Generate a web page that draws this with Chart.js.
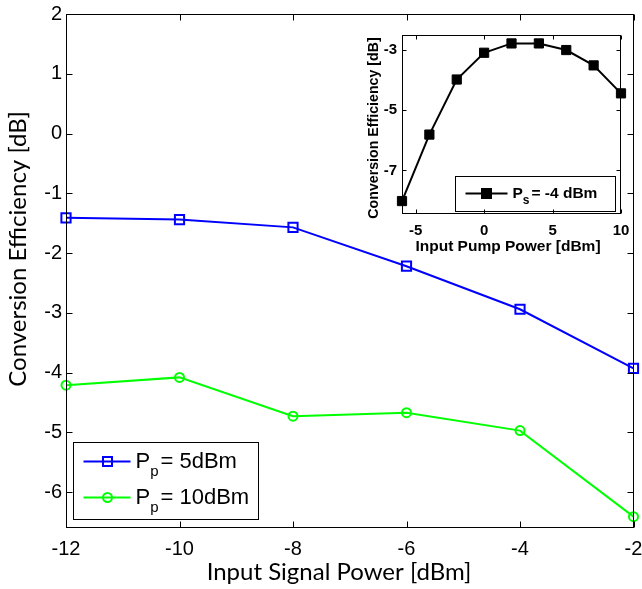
<!DOCTYPE html>
<html>
<head>
<title>Conversion Efficiency</title>
<script src="https://cdn.jsdelivr.net/npm/chart.js"></script>
<style>
  body { margin: 0; background: #fff; }
  #wrap { position: relative; width: 642px; height: 589px; }
  #main { position: absolute; left: 0; top: 0; }
  #inset { position: absolute; left: 340px; top: 0; }
</style>
</head>
<body>
<div id="wrap">
  <canvas id="main" width="642" height="589"></canvas>
  <canvas id="inset" width="302" height="265"></canvas>
</div>
<script>
// main plot data
const signalPower = [-12, -10, -8, -6, -4, -2];
const ce5dBm = [-1.41, -1.44, -1.57, -2.22, -2.94, -3.93];
const ce10dBm = [-4.21, -4.08, -4.73, -4.67, -4.97, -6.41];
const mainXTicks = [-12, -10, -8, -6, -4, -2];
const mainYTicks = [-6, -5, -4, -3, -2, -1, 0, 1, 2];

// inset data (Ps = -4 dBm)
const pumpPower = [-6, -4, -2, 0, 2, 4, 6, 8, 10];
const ceInset = [-8.02, -5.81, -3.98, -3.09, -2.78, -2.78, -3.0, -3.51, -4.44];
const insetXTicks = [-5, 0, 5, 10];
const insetYTicks = [-7, -5, -3];

const tickFont = 'Liberation Sans, Arial, sans-serif';
const titleFont = 'Lato, Carlito, sans-serif';

function toXY(xs, ys) {
  return xs.map((x, i) => ({ x: x, y: ys[i] }));
}

// box around the axes with inward ticks on all four sides (matlab style)
function framePlugin(id, len) {
  return {
    id: id,
    afterDraw(chart) {
      const { ctx, chartArea: a, scales } = chart;
      const l = Math.round(a.left) + 0.5, r = Math.round(a.right) - 0.5;
      const t = Math.round(a.top) + 0.5, b = Math.round(a.bottom) - 0.5;
      ctx.save();
      ctx.strokeStyle = '#000';
      ctx.lineWidth = 1;
      ctx.strokeRect(l, t, r - l, b - t);
      ctx.beginPath();
      scales.x.ticks.forEach(tk => {
        const px = Math.round(scales.x.getPixelForValue(tk.value)) + 0.5;
        ctx.moveTo(px, b); ctx.lineTo(px, b - len);
        ctx.moveTo(px, t); ctx.lineTo(px, t + len);
      });
      scales.y.ticks.forEach(tk => {
        const py = Math.round(scales.y.getPixelForValue(tk.value)) + 0.5;
        ctx.moveTo(l, py); ctx.lineTo(l + len, py);
        ctx.moveTo(r, py); ctx.lineTo(r - len, py);
      });
      ctx.stroke();
      ctx.restore();
    }
  };
}

// "P" + subscript + rest of label
function drawSubLabel(ctx, x, y, main, sub, rest, font, size, subSize) {
  ctx.font = font.replace('SIZE', size);
  ctx.textBaseline = 'middle';
  ctx.textAlign = 'left';
  ctx.fillStyle = '#000';
  ctx.fillText(main, x, y);
  x += ctx.measureText(main).width;
  ctx.font = font.replace('SIZE', subSize);
  ctx.fillText(sub, x, y + size * 0.45);
  x += ctx.measureText(sub).width;
  ctx.font = font.replace('SIZE', size);
  ctx.fillText(rest, x + 2, y);
}

function drawMarker(ctx, style, x, y, s, color, filled) {
  ctx.beginPath();
  if (style === 'rect') ctx.rect(x - s, y - s, 2 * s, 2 * s);
  else ctx.arc(x, y, s, 0, Math.PI * 2);
  if (filled) { ctx.fillStyle = color; ctx.fill(); }
  ctx.strokeStyle = color;
  ctx.stroke();
}

const mainDecor = {
  id: 'mainDecor',
  afterDraw(chart) {
    const { ctx, chartArea: a } = chart;
    ctx.save();
    // axis titles
    ctx.fillStyle = '#000';
    ctx.font = '24px ' + titleFont;
    ctx.textAlign = 'center';
    ctx.textBaseline = 'middle';
    ctx.fillText('Input Signal Power [dBm]', 339, 572);
    ctx.translate(18, 249);
    ctx.rotate(-Math.PI / 2);
    ctx.fillText('Conversion Efficiency [dB]', 0, 0);
    ctx.restore();

    // legend box
    ctx.save();
    const bx = a.left + 7.5, by = a.bottom - 85.5, bw = 185, bh = 77;
    ctx.fillStyle = '#fff';
    ctx.fillRect(bx, by, bw, bh);
    ctx.strokeStyle = '#000';
    ctx.lineWidth = 1;
    ctx.strokeRect(bx, by, bw, bh);
    const rows = chart.data.datasets.map((ds, i) => ({ ds: ds, y: by + 19 + i * 36 }));
    rows.forEach(row => {
      ctx.lineWidth = 2;
      ctx.strokeStyle = row.ds.borderColor;
      ctx.beginPath();
      ctx.moveTo(bx + 10, row.y);
      ctx.lineTo(bx + 57, row.y);
      ctx.stroke();
      drawMarker(ctx, row.ds.pointStyle, bx + 34, row.y, 4.5, row.ds.borderColor, false);
      const parts = row.ds.label.split('|');
      drawSubLabel(ctx, bx + 62, row.y, parts[0], parts[1], parts[2], 'SIZEpx ' + tickFont, 22, 15);
    });
    ctx.restore();
  }
};

const insetDecor = {
  id: 'insetDecor',
  beforeDraw(chart) {
    const { ctx, chartArea: a } = chart;
    ctx.save();
    ctx.fillStyle = '#fff';
    ctx.fillRect(a.left, a.top, a.right - a.left, a.bottom - a.top);
    ctx.restore();
  },
  afterDraw(chart) {
    const { ctx } = chart;
    ctx.save();
    ctx.fillStyle = '#000';
    ctx.font = 'bold 15.5px ' + tickFont;
    ctx.textAlign = 'center';
    ctx.textBaseline = 'middle';
    ctx.fillText('Input Pump Power [dBm]', 168, 247);
    ctx.font = 'bold 14.2px ' + tickFont;
    ctx.translate(34, 128);
    ctx.rotate(-Math.PI / 2);
    ctx.fillText('Conversion Efficiency [dB]', 0, 0);
    ctx.restore();

    // legend
    ctx.save();
    const bx = 115.5, by = 176.5, bw = 160, bh = 35;
    ctx.fillStyle = '#fff';
    ctx.fillRect(bx, by, bw, bh);
    ctx.strokeStyle = '#000';
    ctx.lineWidth = 1;
    ctx.strokeRect(bx, by, bw, bh);
    const ds = chart.data.datasets[0];
    const cy = by + 17;
    ctx.lineWidth = 2;
    ctx.beginPath();
    ctx.moveTo(bx + 10, cy);
    ctx.lineTo(bx + 52, cy);
    ctx.stroke();
    drawMarker(ctx, 'rect', bx + 31, cy, 4.5, '#000', true);
    const parts = ds.label.split('|');
    drawSubLabel(ctx, bx + 57, cy, parts[0], parts[1], parts[2], 'bold SIZEpx ' + tickFont, 15.5, 12);
    ctx.restore();
  }
};

const noGrid = { display: false, drawTicks: false, tickLength: 0 };

new Chart(document.getElementById('main'), {
  type: 'line',
  data: {
    datasets: [{
      label: 'P|p|= 5dBm',
      data: toXY(signalPower, ce5dBm),
      borderColor: '#0000ff',
      backgroundColor: 'transparent',
      borderWidth: 2,
      pointStyle: 'rect',
      pointRadius: 6.5,
      pointBorderWidth: 2,
      tension: 0,
      clip: false
    }, {
      label: 'P|p|= 10dBm',
      data: toXY(signalPower, ce10dBm),
      borderColor: '#00ff00',
      backgroundColor: 'transparent',
      borderWidth: 2,
      pointStyle: 'circle',
      pointRadius: 4.5,
      pointBorderWidth: 2,
      tension: 0,
      clip: false
    }]
  },
  options: {
    responsive: false,
    animation: false,
    events: [],
    layout: { padding: { left: 0, top: 14, right: 8, bottom: 0 } },
    plugins: { legend: { display: false }, tooltip: { enabled: false } },
    scales: {
      x: {
        type: 'linear', min: -12, max: -2,
        afterBuildTicks: s => { s.ticks = mainXTicks.map(v => ({ value: v })); },
        afterFit: s => { s.height = 61; s.paddingLeft = 0; s.paddingRight = 0; },
        grid: noGrid,
        border: { display: false },
        ticks: { color: '#000', font: { family: tickFont, size: 20 }, padding: 9, maxRotation: 0 }
      },
      y: {
        min: -6.6, max: 2,
        afterBuildTicks: s => { s.ticks = mainYTicks.map(v => ({ value: v })); },
        afterFit: s => { s.width = 66; s.paddingTop = 0; s.paddingBottom = 0; },
        grid: noGrid,
        border: { display: false },
        ticks: { color: '#000', font: { family: tickFont, size: 20 }, padding: 4 }
      }
    }
  },
  plugins: [framePlugin('mainFrame', 6), mainDecor]
});

new Chart(document.getElementById('inset'), {
  type: 'line',
  data: {
    datasets: [{
      label: 'P|s|= -4 dBm',
      data: toXY(pumpPower, ceInset),
      borderColor: '#000',
      backgroundColor: '#000',
      borderWidth: 2,
      pointStyle: 'rect',
      pointRadius: 6.5,
      pointBorderWidth: 1,
      tension: 0,
      clip: false
    }]
  },
  options: {
    responsive: false,
    animation: false,
    events: [],
    layout: { padding: { left: 0, top: 35, right: 21, bottom: 0 } },
    plugins: { legend: { display: false }, tooltip: { enabled: false } },
    scales: {
      x: {
        type: 'linear', min: -6, max: 10,
        afterBuildTicks: s => { s.ticks = insetXTicks.map(v => ({ value: v })); },
        afterFit: s => { s.height = 51; s.paddingLeft = 0; s.paddingRight = 0; },
        grid: noGrid,
        border: { display: false },
        ticks: { color: '#000', font: { family: tickFont, size: 15, weight: 'bold' }, padding: 8, maxRotation: 0 }
      },
      y: {
        min: -8.45, max: -2.5,
        afterBuildTicks: s => { s.ticks = insetYTicks.map(v => ({ value: v })); },
        afterFit: s => { s.width = 62; s.paddingTop = 0; s.paddingBottom = 0; },
        grid: noGrid,
        border: { display: false },
        ticks: { color: '#000', font: { family: tickFont, size: 15, weight: 'bold' }, padding: 5 }
      }
    }
  },
  plugins: [insetDecor, framePlugin('insetFrame', 4)]
});
</script>
</body>
</html>
